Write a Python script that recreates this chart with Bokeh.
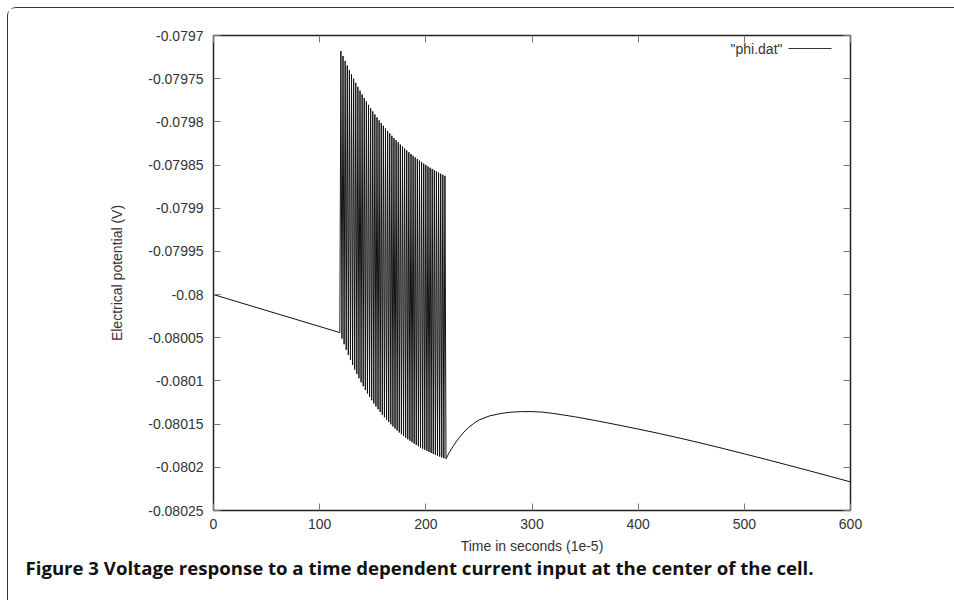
from bokeh.plotting import figure
from bokeh.models import Range1d, LinearAxis, FixedTicker, Label, BoxAnnotation, ColumnDataSource, Title
from bokeh.embed import file_html
from bokeh.resources import INLINE

# ---------------- data ----------------
rest_t = [0, 119]
rest_v = [-0.0800000, -0.0800440]

trough_t = list(range(119, 220, 2))
trough_v = [
    -0.0800440, -0.0800509, -0.0800575, -0.0800639, -0.0800700, -0.0800758,
    -0.0800814, -0.0800868, -0.0800919, -0.0800968, -0.0801015, -0.0801061,
    -0.0801104, -0.0801145, -0.0801185, -0.0801223, -0.0801260, -0.0801295,
    -0.0801328, -0.0801360, -0.0801391, -0.0801421, -0.0801449, -0.0801476,
    -0.0801502, -0.0801527, -0.0801551, -0.0801574, -0.0801596, -0.0801617,
    -0.0801637, -0.0801656, -0.0801675, -0.0801692, -0.0801709, -0.0801726,
    -0.0801741, -0.0801756, -0.0801771, -0.0801784, -0.0801797, -0.0801810,
    -0.0801822, -0.0801834, -0.0801845, -0.0801855, -0.0801866, -0.0801875,
    -0.0801885, -0.0801894, -0.0801902,
]

peak_t = list(range(120, 219, 2))
peak_v = [
    -0.0797180, -0.0797238, -0.0797294, -0.0797348, -0.0797400, -0.0797451,
    -0.0797500, -0.0797548, -0.0797594, -0.0797639, -0.0797682, -0.0797724,
    -0.0797764, -0.0797803, -0.0797841, -0.0797878, -0.0797914, -0.0797948,
    -0.0797982, -0.0798014, -0.0798045, -0.0798076, -0.0798105, -0.0798133,
    -0.0798161, -0.0798188, -0.0798213, -0.0798238, -0.0798263, -0.0798286,
    -0.0798309, -0.0798331, -0.0798352, -0.0798372, -0.0798392, -0.0798412,
    -0.0798430, -0.0798448, -0.0798466, -0.0798483, -0.0798499, -0.0798515,
    -0.0798531, -0.0798545, -0.0798560, -0.0798574, -0.0798587, -0.0798600,
    -0.0798613, -0.0798625,
]

recovery_t = [222, 226, 229, 232, 236, 240, 245, 250, 260, 270, 280, 290,
              300, 310, 320, 340, 360, 380, 400, 420, 440, 460, 480, 500,
              520, 540, 560, 580, 600]
recovery_v = [-0.0801830, -0.0801750, -0.0801697, -0.0801648, -0.0801591,
              -0.0801540, -0.0801493, -0.0801452, -0.0801405, -0.0801378,
              -0.0801362, -0.0801355, -0.0801355, -0.0801361, -0.0801376,
              -0.0801414, -0.0801459, -0.0801507, -0.0801557, -0.0801609,
              -0.0801664, -0.0801722, -0.0801782, -0.0801844, -0.0801907,
              -0.0801971, -0.0802036, -0.0802102, -0.0802169]

x_ticks = [0, 100, 200, 300, 400, 500, 600]
y_ticks = [-0.0797, -0.07975, -0.0798, -0.07985, -0.0799, -0.07995,
           -0.08, -0.08005, -0.0801, -0.08015, -0.0802, -0.08025]
y_tick_labels = ["-0.0797", "-0.07975", "-0.0798", "-0.07985", "-0.0799",
                 "-0.07995", "-0.08", "-0.08005", "-0.0801", "-0.08015",
                 "-0.0802", "-0.08025"]

series_name = '"phi.dat"'
x_label = "Time in seconds (1e-5)"
y_label = "Electrical potential (V)"
caption = "Figure 3 Voltage response to a time dependent current input at the center of the cell."

# ---------------- build path ----------------
t_all = list(rest_t)
v_all = list(rest_v)
for i in range(len(peak_t)):
    t_all += [trough_t[i], peak_t[i]]
    v_all += [trough_v[i], peak_v[i]]
t_all.append(trough_t[-1])
v_all.append(trough_v[-1])
t_all += recovery_t
v_all += recovery_v

src = ColumnDataSource(data=dict(t=t_all, v=v_all))

FONT = "Liberation Sans"
TXT = "#333333"
TICK = "#777777"
FS = "14px"

# outer panel: 7px margin + 1px border on the left/top => 8px shift
p = figure(width=946, height=592,
           x_range=Range1d(0, 600), y_range=Range1d(-0.08025, -0.0797),
           output_backend="svg", toolbar_location=None,
           min_border_left=205, min_border_right=105,
           min_border_top=27, min_border_bottom=91,
           background_fill_color="white", border_fill_color="white",
           outline_line_color="#222222", outline_line_width=1.5)
p.styles = {"margin-left": "7px", "margin-top": "7px",
            "border-left": "1px solid #333333",
            "border-top": "1px solid #333333",
            "border-top-left-radius": "9px",
            "box-sizing": "content-box"}
p.grid.visible = False

p.line("t", "v", source=src, line_color="#111111", line_width=1)


def style_axis(ax, ticks, show_labels):
    ax.ticker = FixedTicker(ticks=ticks)
    ax.axis_line_color = None
    ax.major_tick_in = 7
    ax.major_tick_out = 0
    ax.major_tick_line_color = TICK
    ax.major_tick_line_width = 1
    ax.minor_tick_line_color = None
    ax.major_label_text_font = FONT
    ax.major_label_text_font_size = FS
    ax.major_label_text_color = TXT
    ax.axis_label_text_font = FONT
    ax.axis_label_text_font_size = FS
    ax.axis_label_text_font_style = "normal"
    ax.axis_label_text_color = TXT
    if not show_labels:
        ax.major_label_overrides = {tk: "" for tk in ticks}


xa = p.xaxis[0]
style_axis(xa, x_ticks, True)
xa.axis_label = x_label
xa.major_label_standoff = 8
xa.axis_label_standoff = 6

ya = p.yaxis[0]
style_axis(ya, y_ticks, True)
ya.axis_label = y_label
ya.major_label_standoff = 10
ya.axis_label_standoff = 20
ya.major_label_overrides = {tv: tl for tv, tl in zip(y_ticks, y_tick_labels)}

top = LinearAxis()
style_axis(top, x_ticks, False)
p.add_layout(top, "above")
right = LinearAxis()
style_axis(right, y_ticks, False)
p.add_layout(right, "right")

# legend (gnuplot style: text then sample line)
p.add_layout(Label(x=569, y=462, x_units="screen", y_units="screen",
                   text=series_name, text_align="right", text_baseline="middle",
                   text_font=FONT, text_font_size=FS, text_color=TXT))
p.add_layout(BoxAnnotation(left=575, right=618, bottom=461.5, top=462.5,
                           left_units="screen", right_units="screen",
                           top_units="screen", bottom_units="screen",
                           fill_color="#333333", fill_alpha=1,
                           line_color=None))

# caption below the chart
p.add_layout(Title(text=caption, align="left", offset=-188, standoff=-7,
                   text_font="Open Sans", text_font_style="bold",
                   text_font_size="18.6px", text_color="#111111"), "below")

open("out.html", "w").write(file_html(p, INLINE))
